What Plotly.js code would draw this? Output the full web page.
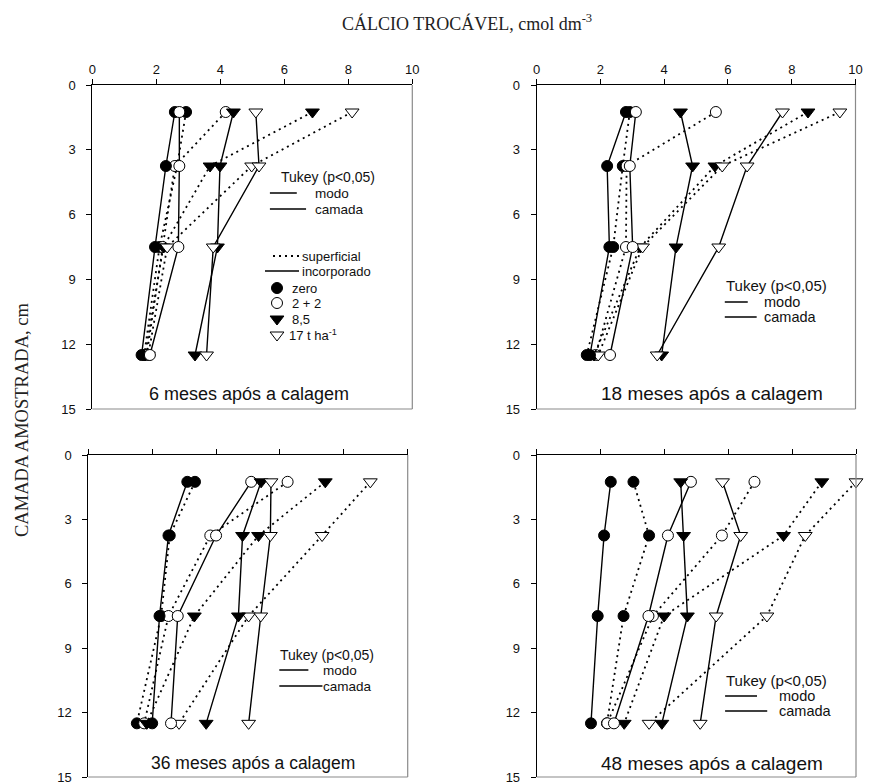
<!DOCTYPE html>
<html>
<head>
<meta charset="utf-8">
<script src="https://cdn.plot.ly/plotly-3.0.1.min.js"></script>
<style>html,body{margin:0;padding:0;background:#fff}#chart{width:869px;height:784px}</style>
</head>
<body>
<div id="chart"></div>
<script>
// ---------------- DATA ----------------
const depth = [1.25, 3.75, 7.5, 12.5];           // cm (centre of each sampled layer)
const panelTitles = ['6 meses após a calagem', '18 meses após a calagem',
                     '36 meses após a calagem', '48 meses após a calagem'];
const doses = ['zero', '2 + 2', '8,5', '17 t ha<sup>-1</sup>'];
const xTicks = [0, 2, 4, 6, 8, 10];
const yTicks = [0, 3, 6, 9, 12, 15];

// 6 months
const zeroSup6 = [2.93, 2.65, 2.10, 1.62];
const zeroInc6 = [2.58, 2.30, 1.96, 1.54];
const twoSup6  = [4.17, 2.58, 2.20, 1.70];
const twoInc6  = [2.72, 2.72, 2.69, 1.80];
const eightSup6 = [6.88, 3.68, 2.22, 1.65];
const eightInc6 = [4.41, 3.99, 3.91, 3.21];
const sevSup6  = [8.12, 4.98, 2.34, 1.75];
const sevInc6  = [5.11, 5.21, 3.78, 3.57];
// 18 months
const zeroSup18 = [2.92, 2.70, 2.40, 1.57];
const zeroInc18 = [2.80, 2.21, 2.28, 1.67];
const twoSup18  = [5.62, 2.82, 2.80, 1.85];
const twoInc18  = [3.11, 2.92, 3.01, 2.30];
const eightSup18 = [8.51, 5.59, 3.25, 1.80];
const eightInc18 = [4.51, 4.89, 4.37, 3.92];
const sevSup18  = [9.51, 5.82, 3.32, 1.93];
const sevInc18  = [7.71, 6.60, 5.71, 3.78];
// 36 months
const zeroSup36 = [3.34, 2.55, 2.28, 1.52];
const zeroInc36 = [3.10, 2.51, 2.23, 2.00];
const twoSup36  = [6.24, 3.82, 2.51, 1.75];
const twoInc36  = [5.10, 4.00, 2.80, 2.59];
const eightSup36 = [7.42, 5.33, 3.32, 1.83];
const eightInc36 = [5.41, 4.83, 4.70, 3.69];
const sevSup36  = [8.83, 7.32, 5.02, 2.84];
const sevInc36  = [5.72, 5.70, 5.40, 5.02];
// 48 months
const zeroSup48 = [3.03, 3.52, 2.72, 2.20];
const zeroInc48 = [2.32, 2.11, 1.91, 1.70];
const twoSup48  = [6.82, 5.80, 3.64, 2.21];
const twoInc48  = [4.83, 4.11, 3.50, 2.42];
const eightSup48 = [8.93, 7.73, 3.99, 2.74];
const eightInc48 = [4.51, 4.60, 4.72, 3.92];
const sevSup48  = [10.0, 8.41, 7.21, 3.52];
const sevInc48  = [5.82, 6.39, 5.62, 5.12];

// Tukey (p<0,05) bar lengths, cmol dm-3
const tukeyModo   = [0.84, 0.72, 0.91, 1.00];
const tukeyCamada = [1.13, 1.00, 1.35, 1.32];

// ---------------- LAYOUT HELPERS ----------------
const W = 869, H = 784;
const boxes = [ // pixel boxes of the four panels [left, right, top, bottom]
  [92.3, 412.3, 85, 409],
  [536.7, 855.5, 85, 409],
  [88.3, 407.7, 455, 777],
  [536.7, 856, 455, 777]
];
const panelSeries = [
  [zeroSup6, zeroInc6, twoSup6, twoInc6, eightSup6, eightInc6, sevSup6, sevInc6],
  [zeroSup18, zeroInc18, twoSup18, twoInc18, eightSup18, eightInc18, sevSup18, sevInc18],
  [zeroSup36, zeroInc36, twoSup36, twoInc36, eightSup36, eightInc36, sevSup36, sevInc36],
  [zeroSup48, zeroInc48, twoSup48, twoInc48, eightSup48, eightInc48, sevSup48, sevInc48]
];
function markerFor(d) {
  const filled = (d === 0 || d === 2);
  return {
    symbol: d < 2 ? 'circle' : 'triangle-down',
    size: d < 2 ? 11 : 12,
    color: filled ? '#000' : '#fff',
    line: {color: '#000', width: 1}
  };
}
const DOT = '2px,4px';

const traces = [];
const layout = {
  width: W, height: H,
  margin: {l: 0, r: 0, t: 0, b: 0},
  paper_bgcolor: '#fff', plot_bgcolor: 'rgba(0,0,0,0)',
  showlegend: false,
  font: {family: 'Liberation Sans, Arial, sans-serif', color: '#111', size: 13},
  annotations: [], shapes: []
};

boxes.forEach((b, p) => {
  const n = p + 1;
  const xa = 'xaxis' + (n === 1 ? '' : n), ya = 'yaxis' + (n === 1 ? '' : n);
  const xr = 'x' + (n === 1 ? '' : n), yr = 'y' + (n === 1 ? '' : n);
  layout[xa] = {
    domain: [b[0] / W, b[1] / W], range: [0, 10], side: 'top', anchor: yr,
    tickvals: xTicks, ticktext: xTicks.map(String), ticks: 'outside', ticklen: 5, tickcolor: '#000',
    showline: true, linecolor: '#000', linewidth: 1, showgrid: false, zeroline: false,
    showticklabels: p < 2, ticklabeloverflow: 'allow', tickfont: {size: 13, color: '#111'}, fixedrange: true
  };
  layout[ya] = {
    domain: [1 - b[3] / H, 1 - b[2] / H], range: [15, 0], anchor: xr,
    tickvals: yTicks, ticktext: yTicks.map(String), ticks: 'outside', ticklen: 5, tickcolor: '#000',
    showline: true, linecolor: '#000', linewidth: 1, showgrid: false, zeroline: false,
    ticklabelstandoff: 8, ticklabeloverflow: 'allow', tickfont: {size: 13, color: '#111'}, fixedrange: true
  };
  // gray right / bottom frame
  layout.shapes.push({type: 'line', xref: xr + ' domain', yref: yr + ' domain', x0: 1, x1: 1, y0: 0, y1: 1,
                      line: {color: '#8a8a8a', width: 1.2}});
  layout.shapes.push({type: 'line', xref: xr + ' domain', yref: yr + ' domain', x0: 0, x1: 1, y0: 0, y1: 0,
                      line: {color: '#8a8a8a', width: 1.2}});
  const ser = panelSeries[p];
  // dotted (superficial) first, then solid (incorporado)
  [0, 1].forEach(mode => {
    for (let d = 0; d < 4; d++) {
      traces.push({
        type: 'scatter', mode: 'lines+markers', xaxis: xr, yaxis: yr,
        x: ser[d * 2 + mode], y: depth,
        line: {color: '#000', width: mode === 0 ? 1.8 : 1.4, dash: mode === 0 ? DOT : 'solid'},
        marker: markerFor(d), cliponaxis: false, hoverinfo: 'skip'
      });
    }
  });
});

// overlay pixel axes for captions / custom legend
layout.xaxis5 = {domain: [0, 1], range: [0, W], visible: false, fixedrange: true, anchor: 'y5'};
layout.yaxis5 = {domain: [0, 1], range: [H, 0], visible: false, fixedrange: true, anchor: 'x5'};

function txt(x, y, s, size, extra) {
  layout.annotations.push(Object.assign({
    xref: 'x5', yref: 'y5', x: x, y: y, text: s, showarrow: false,
    xanchor: 'left', yanchor: 'middle', borderpad: 0,
    font: {family: 'Liberation Sans, Arial, sans-serif', size: size, color: '#111'}
  }, extra || {}));
}

// main titles
txt(467, 22, 'CÁLCIO TROCÁVEL, cmol dm<sup>-3</sup>', 18,
    {xanchor: 'center', font: {family: 'Liberation Serif, Times New Roman, serif', size: 18, color: '#222'}});
txt(22, 420, 'CAMADA AMOSTRADA, cm', 18.5,
    {xanchor: 'center', textangle: -90, font: {family: 'Liberation Serif, Times New Roman, serif', size: 18.5, color: '#222'}});

// panel captions
const capPos = [[148, 394, 18], [600, 393, 19], [150, 763, 17.5], [600, 763, 19]];
capPos.forEach((c, i) => txt(c[0], c[1], panelTitles[i], c[2]));

// Tukey legends: [title x, title y, line-start (data x), modo y, camada y, label x, font]
const tk = [
  [280, 177, 5.55, 193, 209, 314, 13.5],
  [725, 285, 5.90, 302, 317, 763, 14.5],
  [279, 655, 5.98, 670, 686, 322, 13.5],
  [725, 680, 5.90, 696, 711, 778, 14.5]
];
tk.forEach((t, i) => {
  const xr = 'x' + (i === 0 ? '' : i + 1);
  txt(t[0], t[1], 'Tukey (p<0,05)', t[6] + 0.5);
  layout.shapes.push({type: 'line', xref: xr, yref: 'y5', x0: t[2], x1: t[2] + tukeyModo[i], y0: t[3], y1: t[3],
                      line: {color: '#000', width: 1.5}});
  layout.shapes.push({type: 'line', xref: xr, yref: 'y5', x0: t[2], x1: t[2] + tukeyCamada[i], y0: t[4], y1: t[4],
                      line: {color: '#000', width: 1.5}});
  txt(t[5], t[3], 'modo', t[6]);
  txt(t[5], t[4], 'camada', t[6]);
});

// mode / dose legend (top-left panel)
layout.shapes.push({type: 'line', xref: 'x5', yref: 'y5', x0: 273, x1: 299, y0: 256, y1: 256,
                    line: {color: '#000', width: 1.8, dash: DOT}});
layout.shapes.push({type: 'line', xref: 'x5', yref: 'y5', x0: 265, x1: 299, y0: 271, y1: 271,
                    line: {color: '#000', width: 1.4}});
txt(301, 256, 'superficial', 13);
txt(301, 271, 'incorporado', 13);
const legY = [288, 303, 319, 335];
for (let d = 0; d < 4; d++) {
  traces.push({type: 'scatter', mode: 'markers', xaxis: 'x5', yaxis: 'y5',
               x: [277], y: [legY[d]], marker: markerFor(d), hoverinfo: 'skip', cliponaxis: false});
  txt(d === 3 ? 288 : 291, legY[d], doses[d], 13);
}

Plotly.newPlot('chart', traces, layout, {staticPlot: true});
</script>
</body>
</html>
